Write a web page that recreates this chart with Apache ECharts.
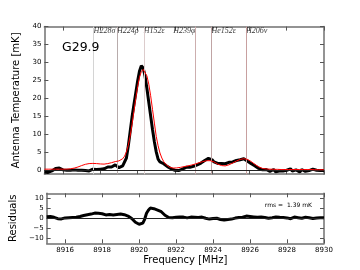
<!DOCTYPE html>
<html><head><meta charset="utf-8">
<script src="https://cdn.jsdelivr.net/npm/echarts@6/dist/echarts.min.js"></script>
<style>html,body{margin:0;padding:0;background:#fff}#c{width:360px;height:270px}</style>
</head><body><div id="c"></div>
<script>
const freq = [8915.0,8915.1,8915.2,8915.3,8915.4,8915.5,8915.6,8915.7,8915.8,8915.9,
8916.0,8916.1,8916.2,8916.3,8916.4,8916.5,8916.6,8916.7,8916.8,8916.9,
8917.0,8917.1,8917.2,8917.3,8917.4,8917.5,8917.6,8917.7,8917.8,8917.9,
8918.0,8918.1,8918.2,8918.3,8918.4,8918.5,8918.6,8918.7,8918.8,8918.9,
8919.0,8919.1,8919.2,8919.3,8919.4,8919.5,8919.6,8919.7,8919.8,8919.9,
8920.0,8920.1,8920.2,8920.3,8920.4,8920.5,8920.6,8920.7,8920.8,8920.9,
8921.0,8921.1,8921.2,8921.3,8921.4,8921.5,8921.6,8921.7,8921.8,8921.9,
8922.0,8922.1,8922.2,8922.3,8922.4,8922.5,8922.6,8922.7,8922.8,8922.9,
8923.0,8923.1,8923.2,8923.3,8923.4,8923.5,8923.6,8923.7,8923.8,8923.9,
8924.0,8924.1,8924.2,8924.3,8924.4,8924.5,8924.6,8924.7,8924.8,8924.9,
8925.0,8925.1,8925.2,8925.3,8925.4,8925.5,8925.6,8925.7,8925.8,8925.9,
8926.0,8926.1,8926.2,8926.3,8926.4,8926.5,8926.6,8926.7,8926.8,8926.9,
8927.0,8927.1,8927.2,8927.3,8927.4,8927.5,8927.6,8927.7,8927.8,8927.9,
8928.0,8928.1,8928.2,8928.3,8928.4,8928.5,8928.6,8928.7,8928.8,8928.9,
8929.0,8929.1,8929.2,8929.3,8929.4,8929.5,8929.6,8929.7,8929.8,8929.9,
8930.0];
const observed = [-0.4,-0.3,-0.5,-0.2,-0.1,0.1,0.6,0.8,0.7,0.4,
0.2,0.5,0.1,-0.1,0.1,-0.1,0.2,0.2,0.1,0.4,
0.1,-0.2,0.0,-0.3,-0.1,0.2,0.4,0.1,0.3,0.5,
0.4,0.8,0.5,0.6,1.0,1.5,1.0,1.2,1.6,1.3,
0.8,1.0,1.3,1.8,3.5,6.8,10.8,14.8,18.2,21.5,
24.8,27.6,29.1,28.5,26.2,22.8,19.0,15.2,11.4,8.0,
5.2,3.2,2.4,2.1,1.9,1.5,1.1,0.6,0.5,0.3,
0.1,0.3,0.0,0.5,0.4,0.6,0.9,0.8,0.9,1.3,
1.2,1.3,1.6,2.0,2.1,2.4,2.8,3.2,3.4,3.3,
3.0,2.4,2.1,2.0,1.9,2.0,2.0,1.9,2.0,2.3,
2.2,2.4,2.6,2.8,3.0,3.0,3.2,3.3,3.1,2.6,
2.2,1.9,1.5,1.3,0.8,0.6,0.4,0.2,-0.1,0.3,
0.4,-0.2,0.1,0.3,-0.3,0.2,-0.1,0.4,-0.1,-0.3,
0.1,-0.2,0.5,-0.1,-0.3,0.2,0.0,-0.4,0.3,-0.1,
-0.2,0.2,0.0,-0.3,0.4,-0.1,0.1,-0.2,0.0,0.3,
0.0];
const model = [0.4,0.4,0.4,0.4,0.4,0.4,0.4,0.4,0.4,0.4,
0.4,0.4,0.4,0.45,0.5,0.6,0.7,0.85,1.0,1.2,
1.4,1.6,1.75,1.9,1.95,2.0,2.0,2.0,1.95,1.9,
1.85,1.8,1.8,1.85,1.95,2.05,2.2,2.35,2.5,2.6,
2.7,2.9,3.3,4.0,5.2,7.0,9.6,12.8,16.4,20.0,
23.3,25.9,27.5,28.1,27.7,26.3,24.0,20.8,17.0,13.2,
9.5,6.9,4.9,3.5,2.5,1.8,1.3,1.0,0.8,0.7,
0.7,0.75,0.8,0.9,1.0,1.1,1.2,1.3,1.4,1.55,
1.7,1.85,2.0,2.2,2.35,2.5,2.65,2.75,2.8,2.75,
2.6,2.4,2.1,1.8,1.55,1.4,1.3,1.3,1.4,1.6,
1.85,2.1,2.4,2.65,2.9,3.1,3.25,3.3,3.25,3.1,
2.85,2.5,2.1,1.7,1.35,1.05,0.8,0.6,0.5,0.45,
0.4,0.4,0.35,0.35,0.35,0.35,0.3,0.3,0.3,0.3,
0.3,0.3,0.3,0.3,0.3,0.3,0.3,0.3,0.3,0.3,
0.3,0.3,0.3,0.3,0.3,0.25,0.25,0.25,0.25,0.25,
0.25];
const residuals = [0.8,0.7,0.9,0.6,0.5,0.3,-0.2,-0.4,-0.3,0.0,
0.2,-0.1,0.3,0.5,0.4,0.7,0.5,0.6,0.9,0.8,
1.4,2.0,1.8,2.2,2.1,2.3,2.6,2.2,2.5,2.4,
2.3,1.6,1.7,1.5,1.9,1.4,1.7,1.5,1.9,1.4,
2.1,2.2,1.8,1.5,1.1,0.6,-0.1,-1.0,-2.0,-2.7,
-3.0,-3.0,-2.4,-0.5,2.5,4.0,5.1,5.4,4.8,4.4,
4.1,3.8,3.3,2.5,1.5,0.6,0.4,0.5,0.3,0.6,
0.5,0.4,0.7,0.3,0.6,0.5,0.2,0.4,0.6,0.3,
0.5,0.7,0.4,0.3,0.6,0.2,0.0,-0.2,-0.4,-0.3,
-0.1,0.3,0.0,-0.3,-0.6,-0.8,-0.9,-0.8,-0.6,-0.7,
-0.4,-0.2,0.1,0.0,0.4,0.6,0.5,0.9,1.1,0.8,
0.9,0.5,0.7,0.2,0.5,0.3,0.6,0.1,0.4,0.5,
0.0,0.6,0.3,0.1,0.7,0.2,0.5,-0.1,0.4,0.6,
0.2,0.5,-0.2,0.4,0.6,0.1,0.3,0.7,0.0,0.4,
0.5,0.1,0.3,0.6,-0.1,0.4,0.2,0.5,0.3,0.0,
0.3];
const lineNames = ['H228\u03c3','H224\u03c1','H152\u03b5','H239\u03c6','He152\u03b5','H206\u03bd'];
const lineFreqs = [8917.64, 8918.90, 8920.33, 8923.10, 8923.96, 8925.81];
const lineColors = ['#d4d4d4','#b8acac','#dccccc','#ccaeae','#c0a4a4','#c8a0a0'];
const xTicks = [8916,8918,8920,8922,8924,8926,8928,8930];
const yTicksTop = [0,5,10,15,20,25,30,35,40];
const yTicksRes = [-10,-5,0,5,10];

const chart = echarts.init(document.getElementById('c'), null, {renderer:'canvas'});
const AX = '#707070';
const fmtNum = v => (v < 0 ? '\u2212' + (-v) : String(v));
function xAx(grid, pos, labels, name) {
  return {type:'value', gridIndex:grid, position:pos, min:8915, max:8930,
    axisLine:{show:true, onZero:false, lineStyle:{color:AX, width:1.5}},
    axisTick:{show:true, inside:true, length:4, customValues:xTicks, lineStyle:{color:'#555', width:1}},
    axisLabel:{show:labels, customValues:xTicks, color:'#000', fontSize:7, fontFamily:'DejaVu Sans', margin:3, formatter:v=>String(v)},
    splitLine:{show:false},
    name: name || '', nameLocation:'middle', nameGap:12,
    nameTextStyle:{fontSize:10, fontFamily:'DejaVu Sans', color:'#000'}};
}
function yAx(grid, pos, min, max, ticks, labels, name, gap) {
  return {type:'value', gridIndex:grid, position:pos, min:min, max:max,
    axisLine:{show:true, onZero:false, lineStyle:{color:AX, width:1.5}},
    axisTick:{show:true, inside:true, length:4, customValues:ticks, lineStyle:{color:'#555', width:1}},
    axisLabel:{show:labels, customValues:ticks, color:'#000', fontSize:7, fontFamily:'DejaVu Sans', margin:3, formatter:fmtNum},
    splitLine:{show:false},
    name: name || '', nameLocation:'middle', nameGap:gap || 20, nameRotate:90,
    nameTextStyle:{fontSize:10, fontFamily:'DejaVu Sans', color:'#000'}};
}
const pts = arr => freq.map((f,i)=>[f, arr[i]]);
const option = {
  animation:false,
  backgroundColor:'#fff',
  title:[
    {text:'G29.9', left:57, top:36, textStyle:{fontSize:12.5, fontWeight:'normal', fontFamily:'DejaVu Sans', color:'#000'}},
    {text:'rms =  1.39 mK', right:43, top:197, textStyle:{fontSize:6, fontWeight:'normal', fontFamily:'DejaVu Sans', color:'#000'}}
  ],
  grid:[
    {left:44.4, top:26.6, width:279.6, height:147.6, containLabel:false},
    {left:44.4, top:193.3, width:279.6, height:50, containLabel:false}
  ],
  xAxis:[
    xAx(0,'bottom',false), xAx(0,'top',false),
    xAx(1,'bottom',true,'Frequency [MHz]'), xAx(1,'top',false)
  ],
  yAxis:[
    yAx(0,'left',-1,40,yTicksTop,true,'Antenna Temperature [mK]',22),
    yAx(0,'right',-1,40,yTicksTop,false),
    yAx(1,'left',-12.5,12.5,yTicksRes,true,'Residuals',21),
    yAx(1,'right',-12.5,12.5,yTicksRes,false)
  ],
  series:[
    {type:'scatter', xAxisIndex:0, yAxisIndex:0, z:1, symbolSize:1, itemStyle:{color:'rgba(0,0,0,0)'}, silent:true,
      clip:false,
      data: lineFreqs.map((f,i)=>({name:lineNames[i], value:[f,40],
        label:{align: i===3 ? 'right':'left', offset: i===3 ? [-1,1.5] : [1,1.5]}})),
      label:{show:true, position:'inside', verticalAlign:'top', formatter:p=>p.name, color:'#000',
        fontSize:8, fontStyle:'italic', fontFamily:'Liberation Serif'},
      labelLayout:{hideOverlap:false},
      markLine:{silent:true, symbol:'none', label:{show:false},
        data: lineFreqs.map((f,i)=>({xAxis:f, lineStyle:{color:lineColors[i], width:1, type:'solid'}}))}
    },
    {type:'line', xAxisIndex:0, yAxisIndex:0, z:2, symbol:'none', data:[], silent:true,
      markLine:{silent:true, symbol:'none', label:{show:false}, data:[{yAxis:0}], lineStyle:{color:'#222', width:1, type:'solid'}}},
    {type:'line', xAxisIndex:0, yAxisIndex:0, z:4, symbol:'none', data:pts(observed),
      lineStyle:{color:'#000', width:3}},
    {type:'line', xAxisIndex:0, yAxisIndex:0, z:5, symbol:'none', data:pts(model),
      lineStyle:{color:'#ff0000', width:1}},
    {type:'line', xAxisIndex:2, yAxisIndex:2, z:4, symbol:'none', data:pts(residuals),
      lineStyle:{color:'#000', width:3},
      markLine:{silent:true, symbol:'none', label:{show:false}, data:[{yAxis:0}], lineStyle:{color:'#222', width:1, type:'solid'}}}
  ]
};
chart.setOption(option);
</script></body></html>
